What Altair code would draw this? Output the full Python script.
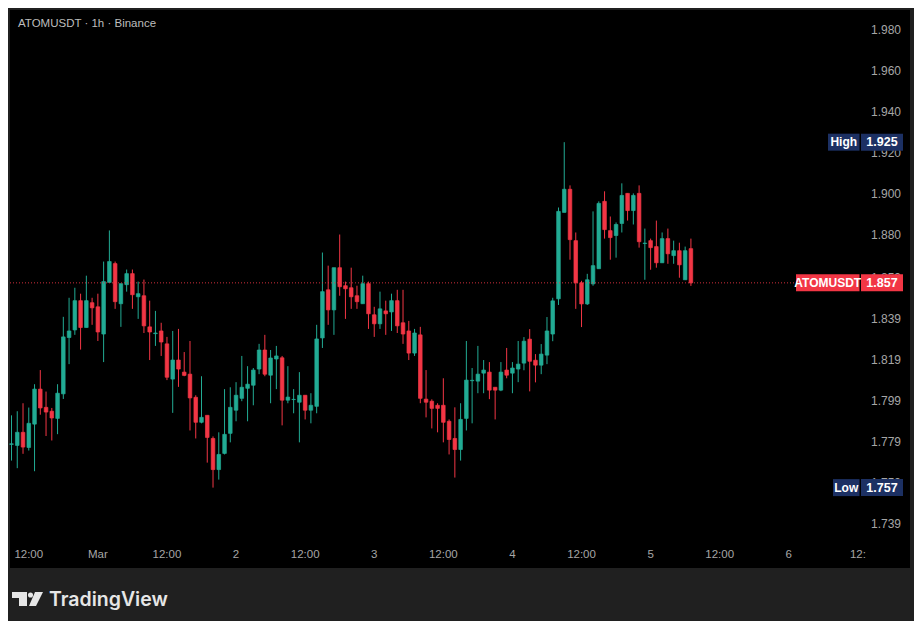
import altair as alt
import pandas as pd

TITLE = "ATOMUSDT · 1h · Binance"
SYMBOL = "ATOMUSDT"
START = "2026-02-28 09:00"

OPEN = [
    1.7778, 1.7773, 1.7837, 1.7763, 1.7877, 1.8048, 1.7959, 1.7940, 1.7905, 1.8025,
    1.8300, 1.8337, 1.8480, 1.8349, 1.8470, 1.8450, 1.8317, 1.8569, 1.8661, 1.8465,
    1.8558, 1.8612, 1.8499, 1.8504, 1.8352, 1.8319, 1.8332, 1.8269, 1.8097, 1.8190,
    1.8131, 1.8121, 1.8008, 1.7886, 1.7920, 1.7807, 1.7655, 1.7734, 1.7832, 1.7945,
    1.8003, 1.8052, 1.8067, 1.8146, 1.8239, 1.8116, 1.8195, 1.8201, 1.7994, 1.7997,
    1.7984, 1.8018, 1.7945, 1.7964, 1.8298, 1.8533, 1.8435, 1.8641, 1.8553, 1.8543,
    1.8504, 1.8465, 1.8563, 1.8411, 1.8367, 1.8430, 1.8425, 1.8480, 1.8372, 1.8332,
    1.8224, 1.8313, 1.7999, 1.7989, 1.7969, 1.7969, 1.7891, 1.7807, 1.7753, 1.7905,
    1.8089, 1.8087, 1.8126, 1.8131, 1.8057, 1.8043, 1.8141, 1.8126, 1.8146, 1.8175,
    1.8292, 1.8189, 1.8165, 1.8214, 1.8317, 1.8489, 1.8911, 1.9024, 1.8773, 1.8567,
    1.8464, 1.8562, 1.8636, 1.8965, 1.8822, 1.8798, 1.8857, 1.9004, 1.8920, 1.9004,
    1.8759, 1.8773, 1.8744, 1.8665, 1.8783, 1.8700, 1.8724, 1.8582, 1.8734,
]
HIGH = [
    1.7920, 1.7940, 1.7979, 1.7958, 1.8072, 1.8141, 1.8036, 1.7956, 1.8072, 1.8401,
    1.8494, 1.8543, 1.8514, 1.8602, 1.8494, 1.8514, 1.8671, 1.8823, 1.8671, 1.8563,
    1.8632, 1.8632, 1.8573, 1.8583, 1.8480, 1.8430, 1.8372, 1.8303, 1.8332, 1.8342,
    1.8229, 1.8283, 1.8018, 1.8111, 1.7920, 1.7817, 1.7837, 1.8048, 1.8057, 1.8082,
    1.8210, 1.8160, 1.8151, 1.8269, 1.8313, 1.8239, 1.8259, 1.8210, 1.8160, 1.8048,
    1.8131, 1.8018, 1.8028, 1.8362, 1.8715, 1.8651, 1.8641, 1.8803, 1.8573, 1.8641,
    1.8553, 1.8602, 1.8573, 1.8450, 1.8524, 1.8480, 1.8514, 1.8533, 1.8533, 1.8381,
    1.8342, 1.8352, 1.8141, 1.7998, 1.7979, 1.8101, 1.7900, 1.7959, 1.7979, 1.8283,
    1.8151, 1.8259, 1.8190, 1.8180, 1.8057, 1.8180, 1.8249, 1.8180, 1.8283, 1.8302,
    1.8341, 1.8219, 1.8268, 1.8400, 1.8494, 1.8935, 1.9254, 1.9043, 1.8813, 1.8577,
    1.8611, 1.8916, 1.8965, 1.9014, 1.8891, 1.8862, 1.9053, 1.9004, 1.9004, 1.9043,
    1.8832, 1.8783, 1.8871, 1.8813, 1.8832, 1.8773, 1.8763, 1.8744, 1.8783,
]
LOW = [
    1.7699, 1.7662, 1.7732, 1.7748, 1.7647, 1.7923, 1.7819, 1.7797, 1.7828, 1.8000,
    1.8170, 1.8313, 1.8241, 1.8349, 1.8362, 1.8283, 1.8180, 1.8569, 1.8440, 1.8352,
    1.8524, 1.8440, 1.8391, 1.8322, 1.8190, 1.8259, 1.8210, 1.8092, 1.7932, 1.8059,
    1.8111, 1.7846, 1.7807, 1.7881, 1.7689, 1.7567, 1.7606, 1.7729, 1.7788, 1.7891,
    1.7989, 1.7891, 1.7969, 1.8121, 1.8111, 1.7979, 1.8048, 1.7871, 1.7979, 1.7930,
    1.7788, 1.7900, 1.7881, 1.7930, 1.8249, 1.8362, 1.8313, 1.8504, 1.8391, 1.8440,
    1.8440, 1.8465, 1.8342, 1.8303, 1.8342, 1.8313, 1.8332, 1.8322, 1.8269, 1.8190,
    1.8210, 1.7979, 1.7910, 1.7856, 1.7837, 1.7788, 1.7729, 1.7616, 1.7699, 1.7846,
    1.7881, 1.8028, 1.8028, 1.7999, 1.7900, 1.8038, 1.8101, 1.8028, 1.8082, 1.8140,
    1.8037, 1.8081, 1.8121, 1.8170, 1.8282, 1.8459, 1.8911, 1.8680, 1.8440, 1.8351,
    1.8459, 1.8553, 1.8636, 1.8783, 1.8680, 1.8690, 1.8813, 1.8871, 1.8852, 1.8739,
    1.8582, 1.8631, 1.8641, 1.8665, 1.8660, 1.8660, 1.8592, 1.8582, 1.8552,
]
CLOSE = [
    1.7781, 1.7837, 1.7765, 1.7881, 1.8048, 1.7956, 1.7936, 1.7907, 1.8028, 1.8303,
    1.8332, 1.8480, 1.8349, 1.8480, 1.8445, 1.8327, 1.8573, 1.8671, 1.8475, 1.8563,
    1.8612, 1.8509, 1.8514, 1.8357, 1.8327, 1.8322, 1.8278, 1.8106, 1.8190, 1.8146,
    1.8115, 1.8005, 1.7886, 1.7910, 1.7812, 1.7655, 1.7729, 1.7827, 1.7959, 1.8018,
    1.8057, 1.8072, 1.8141, 1.8239, 1.8121, 1.8200, 1.8210, 1.7994, 1.8009, 1.7998,
    1.8018, 1.7945, 1.7969, 1.8293, 1.8524, 1.8435, 1.8641, 1.8548, 1.8538, 1.8499,
    1.8475, 1.8563, 1.8416, 1.8367, 1.8440, 1.8416, 1.8480, 1.8357, 1.8317, 1.8224,
    1.8322, 1.8003, 1.7984, 1.7954, 1.7954, 1.7886, 1.7802, 1.7753, 1.7900, 1.8092,
    1.8091, 1.8121, 1.8141, 1.8043, 1.8043, 1.8131, 1.8116, 1.8151, 1.8170, 1.8282,
    1.8184, 1.8165, 1.8219, 1.8332, 1.8479, 1.8916, 1.9024, 1.8778, 1.8567, 1.8464,
    1.8582, 1.8651, 1.8955, 1.8827, 1.8788, 1.8852, 1.8994, 1.8920, 1.8994, 1.8768,
    1.8761, 1.8739, 1.8665, 1.8783, 1.8709, 1.8724, 1.8655, 1.8724, 1.8567,
]

Y_TICKS = [1.980, 1.960, 1.940, 1.920, 1.900, 1.880, 1.859, 1.839, 1.819,
           1.799, 1.779, 1.759, 1.739]
X_TICKS = ["2026-02-28T12:00:00", "2026-03-01T00:00:00", "2026-03-01T12:00:00",
           "2026-03-02T00:00:00", "2026-03-02T12:00:00", "2026-03-03T00:00:00",
           "2026-03-03T12:00:00", "2026-03-04T00:00:00", "2026-03-04T12:00:00",
           "2026-03-05T00:00:00", "2026-03-05T12:00:00", "2026-03-06T00:00:00",
           "2026-03-06T12:00:00"]
X_LABELS = ["12:00", "Mar", "12:00", "2", "12:00", "3", "12:00", "4", "12:00",
            "5", "12:00", "6", "12:"]

GREEN = "#22ab94"
RED = "#f23645"
NAVY = "#1c3063"
GRAY = "#a6a6a6"
FONT = "Liberation Sans"

times = pd.date_range(START, periods=len(OPEN), freq="h")
df = pd.DataFrame({"t": times, "open": OPEN, "high": HIGH, "low": LOW, "close": CLOSE})
df["dir"] = ["up" if c >= o else "down" for o, c in zip(OPEN, CLOSE)]

xscale = alt.Scale(domain=[alt.DateTime(year=2026, month=2, date=28, hours=8, minutes=44, seconds=22),
                           alt.DateTime(year=2026, month=3, date=6, hours=21, minutes=3)],
                   padding=0)
yscale = alt.Scale(domain=[1.71744, 1.98995], nice=False, zero=False, padding=0)
cscale = alt.Scale(domain=["up", "down"], range=[GREEN, RED])

base = alt.Chart(df).encode(x=alt.X("t:T", scale=xscale, axis=None))
wicks = base.mark_rule(strokeWidth=1).encode(
    y=alt.Y("low:Q", scale=yscale, axis=None),
    y2="high:Q",
    color=alt.Color("dir:N", scale=cscale, legend=None),
)
bodies = base.mark_bar(size=3.6, strokeWidth=0.7).encode(
    y=alt.Y("open:Q", scale=yscale, axis=None),
    y2="close:Q",
    color=alt.Color("dir:N", scale=cscale, legend=None),
    stroke=alt.Stroke("dir:N", scale=cscale, legend=None),
)

last = CLOSE[-1]
hi = max(HIGH)
lo = min(LOW)

price_line = alt.Chart(pd.DataFrame({"p": [last]})).mark_rule(
    color=RED, strokeDash=[1, 2], strokeWidth=1, opacity=0.85
).encode(y=alt.Y("p:Q", scale=yscale, axis=None), x=alt.value(0), x2=alt.value(786))

ylab_df = pd.DataFrame({"v": Y_TICKS, "lab": [f"{v:.3f}" for v in Y_TICKS]})
ylabels = alt.Chart(ylab_df).mark_text(color=GRAY, fontSize=12, font=FONT,
                                       align="left", baseline="middle").encode(
    x=alt.value(861), y=alt.Y("v:Q", scale=yscale, axis=None), text="lab:N")

labels = [
    ("High", hi, 818, NAVY),
    (SYMBOL, last, 786, RED),
    ("Low", lo, 823, NAVY),
]
label_layers = []
for name, price, x1, col in labels:
    d = pd.DataFrame({"p": [price], "name": [name], "val": [f"{price:.3f}"]})
    b = alt.Chart(d)
    label_layers.append(b.mark_rect(color=col, yOffset=-8.5, y2Offset=8.5).encode(
        x=alt.value(x1), x2=alt.value(849.5),
        y=alt.Y("p:Q", scale=yscale, axis=None), y2="p:Q"))
    label_layers.append(b.mark_rect(color=col, yOffset=-8.5, y2Offset=8.5).encode(
        x=alt.value(851), x2=alt.value(893),
        y=alt.Y("p:Q", scale=yscale, axis=None), y2="p:Q"))
    label_layers.append(b.mark_text(color="#ffffff", fontSize=12, fontWeight="bold",
                                    font=FONT, align="center", baseline="middle").encode(
        x=alt.value((x1 + 849.5) / 2), y=alt.Y("p:Q", scale=yscale, axis=None), text="name:N"))
    label_layers.append(b.mark_text(color="#ffffff", fontSize=12.5, fontWeight="bold",
                                    font=FONT, align="center", baseline="middle").encode(
        x=alt.value(872), y=alt.Y("p:Q", scale=yscale, axis=None), text="val:N"))

xlab_df = pd.DataFrame({"t": pd.to_datetime(X_TICKS), "lab": X_LABELS})
xlabels = alt.Chart(xlab_df).mark_text(color=GRAY, fontSize=11.5, font=FONT,
                                       align="center", baseline="middle").encode(
    x=alt.X("t:T", scale=xscale, axis=None), y=alt.value(545), text="lab:N")

one = pd.DataFrame({"a": [0]})
header = alt.Chart(one).mark_text(color="#bdbdbd", fontSize=11.5, font=FONT,
                                  align="left", baseline="middle").encode(
    x=alt.value(8), y=alt.value(14), text=alt.value(TITLE))

logo_text = alt.Chart(one).mark_text(color="#e6e6e6", fontSize=19.5, fontWeight=600,
                                     font="Inter", align="left", baseline="alphabetic").encode(
    x=alt.value(39), y=alt.value(596), text=alt.value("TradingView"))
logo_bar = alt.Chart(one).mark_rect(color="#e6e6e6").encode(
    x=alt.value(2), x2=alt.value(17), y=alt.value(582), y2=alt.value(588))
logo_stem = alt.Chart(one).mark_rect(color="#e6e6e6").encode(
    x=alt.value(9), x2=alt.value(17), y=alt.value(582), y2=alt.value(596))
logo_dot = alt.Chart(one).mark_point(shape="circle", filled=True, size=26, opacity=1,
                                     color="#e6e6e6").encode(x=alt.value(20.5), y=alt.value(585))
logo_slash = alt.Chart(one).mark_point(shape="M-0.14,-1L1,-1L0,1L-1,1Z", filled=True,
                                       size=196, opacity=1, color="#e6e6e6").encode(
    x=alt.value(26), y=alt.value(589))

chart = alt.layer(
    wicks, bodies, price_line, ylabels, xlabels, header,
    logo_text, logo_bar, logo_stem, logo_dot, logo_slash,
    *label_layers,
).properties(
    width=900, height=558,
    background="#202020",
    padding={"left": 2, "top": 2, "right": 4, "bottom": 53},
    autosize=alt.AutoSizeParams(type="none"),
).configure_view(fill="#000000", strokeWidth=0)

chart.save("out.html", embed_options={"renderer": "svg", "actions": False})
